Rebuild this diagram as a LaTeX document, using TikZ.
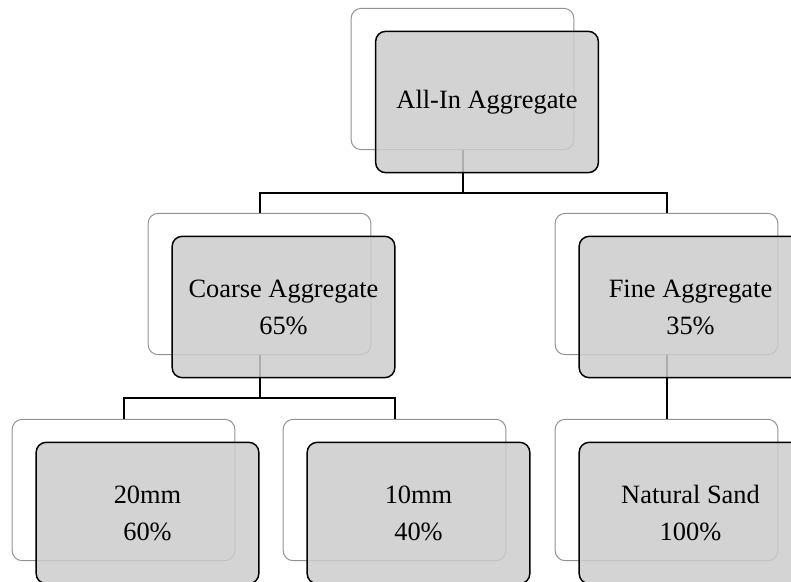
\documentclass[tikz,border=0pt]{standalone}
\usepackage{fontspec}
\setmainfont{Liberation Serif}
\usepackage{xcolor}
\usetikzlibrary{positioning}

\definecolor{boxgray}{RGB}{204,204,204}

\begin{document}
\begin{tikzpicture}[
    x=0.75pt, y=-0.75pt,
    backbox/.style={draw=gray!85, line width=0.75pt, fill=white, rounded corners=7.5pt,
        minimum width=167pt, minimum height=106pt},
    frontbox/.style={draw=black, line width=1.1pt, fill=boxgray, fill opacity=0.85, text opacity=1,
        rounded corners=7.5pt, minimum width=167pt, minimum height=106pt, align=center,
        font=\fontsize{19.8}{27.8}\selectfont},
    link/.style={draw=black, line width=1.5pt}
]

\useasboundingbox (0,0) rectangle (791,581);
\clip (0,0) rectangle (791,581);

% back boxes
\node[backbox] (all)    at (462.5,79)  {};
\node[backbox] (coarse) at (259.5,284) {};
\node[backbox] (fine)   at (666.5,284) {};
\node[backbox] (mm20)   at (123.5,490) {};
\node[backbox] (mm10)   at (394.5,490) {};
\node[backbox] (sand)   at (666.5,490) {};

% connectors
\draw[link] (all.south) -- ++(0,43) -| (coarse.north);
\draw[link] (all.south) -- ++(0,43) -| (fine.north);
\draw[link] (coarse.south) -- ++(0,43) -| (mm20.north);
\draw[link] (coarse.south) -- ++(0,43) -| (mm10.north);
\draw[link] (fine.south) -- (sand.north);

% front boxes
\node[frontbox] (allF)    at (487,102)   {All-In Aggregate};
\node[frontbox] (coarseF) at (283.5,307) {Coarse Aggregate\\65\%};
\node[frontbox] (fineF)   at (690.5,307) {Fine Aggregate\\35\%};
\node[frontbox] (mm20F)   at (147.5,513) {20mm\\60\%};
\node[frontbox] (mm10F)   at (418.5,513) {10mm\\40\%};
\node[frontbox] (sandF)   at (690.5,513) {Natural Sand\\100\%};

\end{tikzpicture}
\end{document}
